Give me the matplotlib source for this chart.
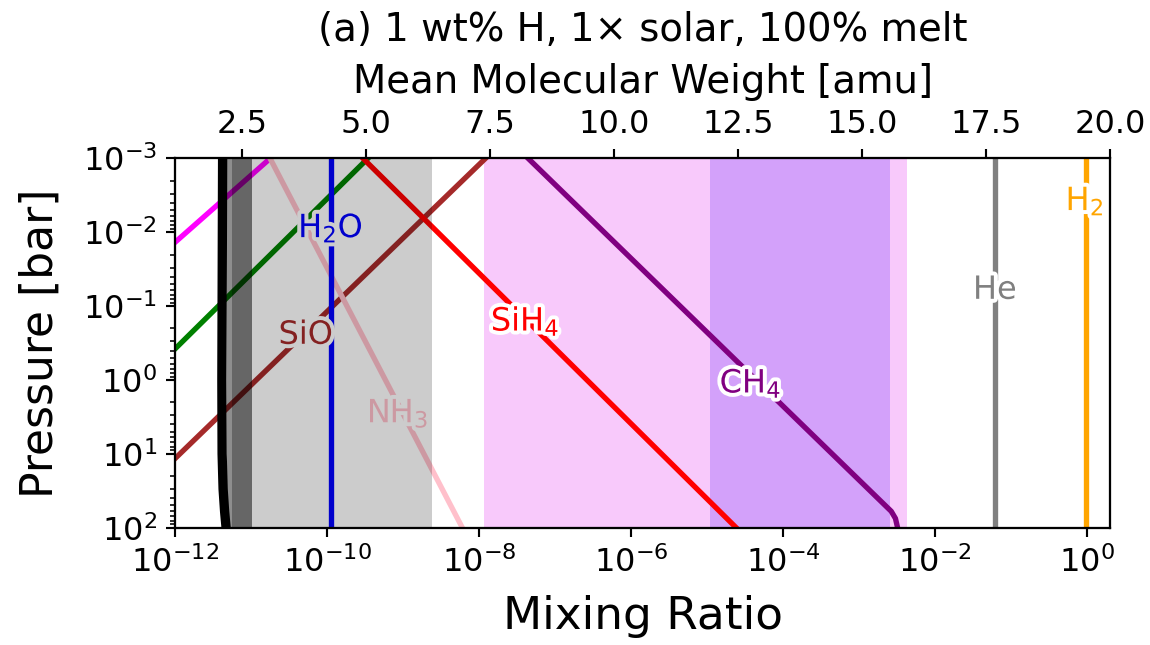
import numpy as np
import matplotlib.pyplot as plt
import matplotlib.patheffects as pe

# pressure [bar] and mixing ratios
p_vert = [1e-3, 1e2]
x_h2o = [1.1e-10, 1.1e-10]
x_he = [0.061, 0.061]
x_h2 = [0.96, 0.96]

p_nh3 = [1e-3, 1e2]
x_nh3 = [1.76e-11, 5.96e-9]

p_sih4 = [1e-3, 1e2]
x_sih4 = [2.95e-10, 2.4e-5]

p_sio = [1e-3, 1e2]
x_sio = [1.2e-8, 1.13e-13]

p_green = [1e-3, 1.0]
x_green = [3.4e-10, 3.8e-13]

p_magenta = [1e-3, 0.1]
x_magenta = [1.76e-11, 1.1e-13]

p_ch4 = [1e-3, 60, 75, 100]
x_ch4 = [4.4e-8, 2.64e-3, 3.0e-3, 3.2e-3]

# mean molecular weight profile (top axis)
p_mmw = [1e-3, 1e-1, 1, 10, 30, 60, 100]
mmw = [2.11, 2.10, 2.095, 2.10, 2.12, 2.15, 2.18]

# shaded ranges in mixing ratio
gray_wide = (4.77e-12, 2.39e-9)
gray_edge = (4.77e-12, 1.02e-11)
gray_core = (5.55e-12, 1.02e-11)
pink_range = (1.16e-8, 4.2e-3)
purple_range = (1.1e-5, 2.52e-3)

# labels: text, x, pressure, colour
labels = [
    ('H$_2$O', 1.1e-10, 8.9e-3, 'blue'),
    ('SiO', 5.17e-11, 0.248, 'brown'),
    ('NH$_3$', 8.4e-10, 2.84, 'pink'),
    ('SiH$_4$', 4.0e-8, 0.16, 'red'),
    ('CH$_4$', 3.7e-5, 1.13, 'purple'),
    ('He', 0.061, 0.061, 'gray'),
    ('H$_2$', 0.93, 3.8e-3, 'orange'),
]

plt.rcParams['xtick.labelsize'] = 12
plt.rcParams['ytick.labelsize'] = 12

fig = plt.figure(figsize=(1150 / 192, 645 / 192), dpi=192)
ax = fig.add_axes([0.1526, 0.1819, 0.9652 - 0.1526, 0.7543 - 0.1819])

ax.axvspan(*pink_range, color='#f8c9fb', lw=0, zorder=0)
ax.axvspan(*purple_range, color='#d3a1fa', lw=0, zorder=0)

lw = 2
ax.plot(x_magenta, p_magenta, color='magenta', lw=lw)
ax.plot(x_green, p_green, color='green', lw=lw)
ax.plot(x_sio, p_sio, color='brown', lw=lw)
ax.plot(x_nh3, p_nh3, color='pink', lw=lw)
ax.plot(x_sih4, p_sih4, color='red', lw=lw)
ax.plot(x_ch4, p_ch4, color='purple', lw=lw)
ax.plot(x_h2o, p_vert, color='blue', lw=lw)
ax.plot(x_he, p_vert, color='gray', lw=lw)
ax.plot(x_h2, p_vert, color='orange', lw=lw)

for txt, xv, pv, c in labels:
    ax.text(xv, pv, txt, color=c, fontsize=12, ha='center', va='center',
            zorder=5,
            path_effects=[pe.withStroke(linewidth=3, foreground='white')])

# grey ranges drawn over the lines
ax.axvspan(*gray_wide, color='black', alpha=0.2, lw=0, zorder=6)
ax.axvspan(*gray_edge, color='black', alpha=0.3, lw=0, zorder=6)
ax.axvspan(*gray_core, color='black', alpha=0.28, lw=0, zorder=6)

ax.set_xscale('log')
ax.set_yscale('log')
ax.set_xlim(1e-12, 2)
ax.set_ylim(1e2, 1e-3)
ax.set_xlabel('Mixing Ratio', fontsize=17, labelpad=6)
ax.set_ylabel('Pressure [bar]', fontsize=16.5, labelpad=8)
ax.set_xticks([1e-12, 1e-10, 1e-8, 1e-6, 1e-4, 1e-2, 1e0])
ax.xaxis.set_minor_locator(plt.NullLocator())

ax2 = ax.twiny()
ax2.plot(mmw, p_mmw, color='black', lw=3.5)
ax2.set_xlim(1.16, 20)
ax2.set_xlabel('Mean Molecular Weight [amu]', fontsize=14.5, labelpad=6)
ax2.set_title('(a) 1 wt% H, 1\u00d7 solar, 100% melt', fontsize=14.5, pad=8)

fig.savefig('out.png', dpi=192)
